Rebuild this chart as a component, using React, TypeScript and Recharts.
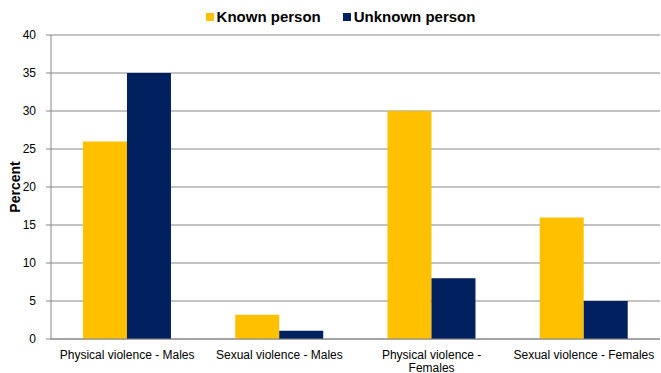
import React from 'react';
import { BarChart, Bar, XAxis, YAxis, CartesianGrid, Legend } from 'recharts';

const categories = [
  'Physical violence - Males',
  'Sexual violence - Males',
  'Physical violence - Females',
  'Sexual violence - Females',
];
const knownPerson = [26, 3.2, 30, 16];
const unknownPerson = [35, 1.1, 8, 5];
const yTicks = [0, 5, 10, 15, 20, 25, 30, 35, 40];

const KNOWN = '#FFC000';
const UNKNOWN = '#002060';
const FONT = 'Arial, "Liberation Sans", sans-serif';
const MAX_CHARS = 25;

const data = categories.map((name, i) => ({
  name,
  known: knownPerson[i],
  unknown: unknownPerson[i],
}));

const legendItems = [
  { label: 'Known person', color: KNOWN },
  { label: 'Unknown person', color: UNKNOWN },
];

// greedy word wrap on character count
function wrap(label: string): string[] {
  const lines: string[] = [];
  let cur = '';
  for (const w of label.split(' ')) {
    const next = cur ? cur + ' ' + w : w;
    if (next.length > MAX_CHARS && cur) {
      lines.push(cur);
      cur = w;
    } else {
      cur = next;
    }
  }
  if (cur) lines.push(cur);
  return lines;
}

function LegendContent() {
  return (
    <div style={{ display: 'flex', justifyContent: 'center', gap: 22, fontFamily: FONT, fontWeight: 'bold', fontSize: 15, lineHeight: '16px', color: '#000' }}>
      {legendItems.map((it) => (
        <div key={it.label} style={{ display: 'flex', alignItems: 'center' }}>
          <span style={{ width: 8, height: 8, background: it.color, display: 'inline-block', marginRight: 3 }} />
          <span>{it.label}</span>
        </div>
      ))}
    </div>
  );
}

function CategoryTick(props: any) {
  const { x, y, payload } = props;
  const lines = wrap(String(payload.value));
  return (
    <text x={x} y={y + 12} textAnchor="middle" fontSize={12} fontFamily={FONT} fill="#000">
      {lines.map((l, i) => (
        <tspan key={i} x={x} dy={i === 0 ? 0 : 13}>
          {l}
        </tspan>
      ))}
    </text>
  );
}

export default function App() {
  return (
    <div style={{ position: 'absolute', left: 0, top: 0, width: 661, height: 373, background: '#fff' }}>
      <BarChart
        width={661}
        height={373}
        data={data}
        margin={{ top: 19, right: 1, bottom: 0, left: 0 }}
        barCategoryGap="21%"
        barGap={0}
      >
        <CartesianGrid vertical={false} stroke="#878787" strokeWidth={1} />
        <XAxis
          dataKey="name"
          height={34}
          interval={0}
          tick={<CategoryTick />}
          axisLine={{ stroke: '#878787' }}
          tickLine={false}
        />
        <YAxis
          width={51}
          domain={[0, 40]}
          ticks={yTicks}
          tick={{ fontSize: 12, fontFamily: FONT, fill: '#000', dx: -8 }}
          axisLine={{ stroke: '#878787' }}
          tickLine={{ stroke: '#878787' }}
          tickSize={5}
          label={{
            value: 'Percent',
            angle: -90,
            position: 'insideLeft',
            offset: 15,
            style: { fontSize: 14, fontWeight: 'bold', fontFamily: FONT, fill: '#000', textAnchor: 'middle' },
          }}
        />
        <Legend
          verticalAlign="top"
          height={16}
          content={<LegendContent />}
          wrapperStyle={{ top: 9, left: 10, width: 661 }}
        />
        <Bar dataKey="known" name="Known person" fill={KNOWN} isAnimationActive={false} />
        <Bar dataKey="unknown" name="Unknown person" fill={UNKNOWN} isAnimationActive={false} />
      </BarChart>
    </div>
  );
}
